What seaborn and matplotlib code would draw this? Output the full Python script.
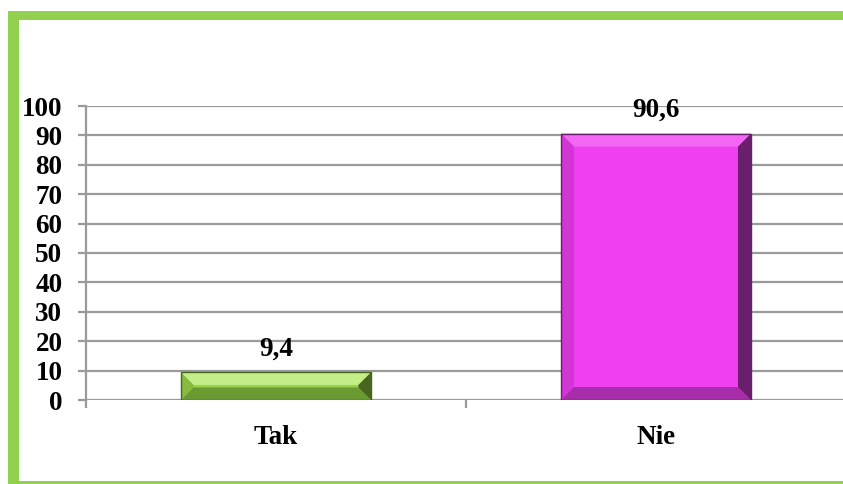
import numpy as np
import pandas as pd
import matplotlib
matplotlib.use("Agg")
import matplotlib.pyplot as plt
import seaborn as sns
from matplotlib.patches import Polygon, Rectangle

# data
categories = ["Tak", "Nie"]
values = [9.4, 90.6]
value_labels = ["9,4", "90,6"]
bar_colors = ["#98d24e", "#ee3ff0"]
# bevel shades: top, left, bottom, right
bevel_colors = [
    ["#c4ef88", "#86bb40", "#6a9a32", "#46661e"],
    ["#f467f5", "#d236d4", "#a82dab", "#6a1f6c"],
]
y_ticks = list(range(0, 101, 10))

sns.set_theme(style="white")
plt.rcParams["font.family"] = ["Liberation Serif", "DejaVu Serif"]
plt.rcParams["font.weight"] = "bold"

W, H = 843, 484
fig = plt.figure(figsize=(W / 100, H / 100), dpi=100)
fig.patch.set_facecolor("white")

# green frame (left, top, bottom; runs off the right edge), in pixels from top-left
frame = [(8, 11, W - 8, 9), (8, 11, 11, H - 11), (8, 480.5, W - 8, 4)]
for fx, fy, fw, fh in frame:
    fig.patches.append(Rectangle((fx / W, (H - fy - fh) / H), fw / W, fh / H,
                                 transform=fig.transFigure, facecolor="#92d050",
                                 edgecolor="none", zorder=0))

ax = fig.add_axes([86 / W, (H - 400) / H, 760 / W, 294 / H])
df = pd.DataFrame({"kat": categories, "val": values})
sns.barplot(data=df, x="kat", y="val", hue="kat", palette=bar_colors,
            saturation=1, width=0.5, legend=False, ax=ax, zorder=3,
            edgecolor="none")

ax.set_xlim(-0.5, 1.5)
ax.set_ylim(0, 100)
ax.set_yticks(y_ticks)
ax.set_xlabel("")
ax.set_ylabel("")
ax.yaxis.grid(True, color="#9a9a9a", linewidth=1.6, zorder=0)
ax.set_axisbelow(True)
for s in ["top", "right", "bottom"]:
    ax.spines[s].set_visible(False)
ax.spines["left"].set_color("#9a9a9a")
ax.spines["left"].set_linewidth(1.6)
ax.tick_params(axis="y", which="major", length=6, width=1.6, color="#9a9a9a",
               direction="out", pad=11, labelsize=19.5, left=True)
ax.tick_params(axis="x", which="major", length=0, pad=18, labelsize=19.5)
ax.set_xticks([-0.5, 0.5, 1.5], minor=True)
ax.tick_params(axis="x", which="minor", length=6, width=1.6, color="#9a9a9a",
               direction="out", bottom=True)
for lab in ax.get_xticklabels() + ax.get_yticklabels():
    lab.set_fontweight("bold")
    lab.set_color("black")

# bevel edges on each bar
fig.canvas.draw()
to_disp = ax.transData
to_data = ax.transData.inverted()
bev = 13
for patch, shades in zip(ax.patches, bevel_colors):
    x0, y0 = patch.get_x(), patch.get_y()
    x1, y1 = x0 + patch.get_width(), y0 + patch.get_height()
    (px0, py0), (px1, py1) = to_disp.transform([(x0, y0), (x1, y1)])
    b = min(bev, (py1 - py0) / 2.2)
    outer = [(px0, py1), (px1, py1), (px1, py0), (px0, py0)]
    inner = [(px0 + b, py1 - b), (px1 - b, py1 - b), (px1 - b, py0 + b), (px0 + b, py0 + b)]
    sides = [
        [outer[0], outer[1], inner[1], inner[0]],  # top
        [outer[3], outer[0], inner[0], inner[3]],  # left
        [outer[2], outer[3], inner[3], inner[2]],  # bottom
        [outer[1], outer[2], inner[2], inner[1]],  # right
    ]
    for pts, c in zip(sides, shades):
        ax.add_patch(Polygon(to_data.transform(pts), closed=True, facecolor=c,
                             edgecolor="none", zorder=4))
    ax.add_patch(Rectangle((x0, y0), x1 - x0, y1 - y0, fill=False,
                           edgecolor=shades[3], linewidth=1, zorder=5))

for i, (v, t) in enumerate(zip(values, value_labels)):
    ax.annotate(t, (i, v), xytext=(0, 8), textcoords="offset points",
                ha="center", va="bottom", fontsize=19.5, fontweight="bold",
                color="black", zorder=6)

fig.savefig("out.png", dpi=100)
